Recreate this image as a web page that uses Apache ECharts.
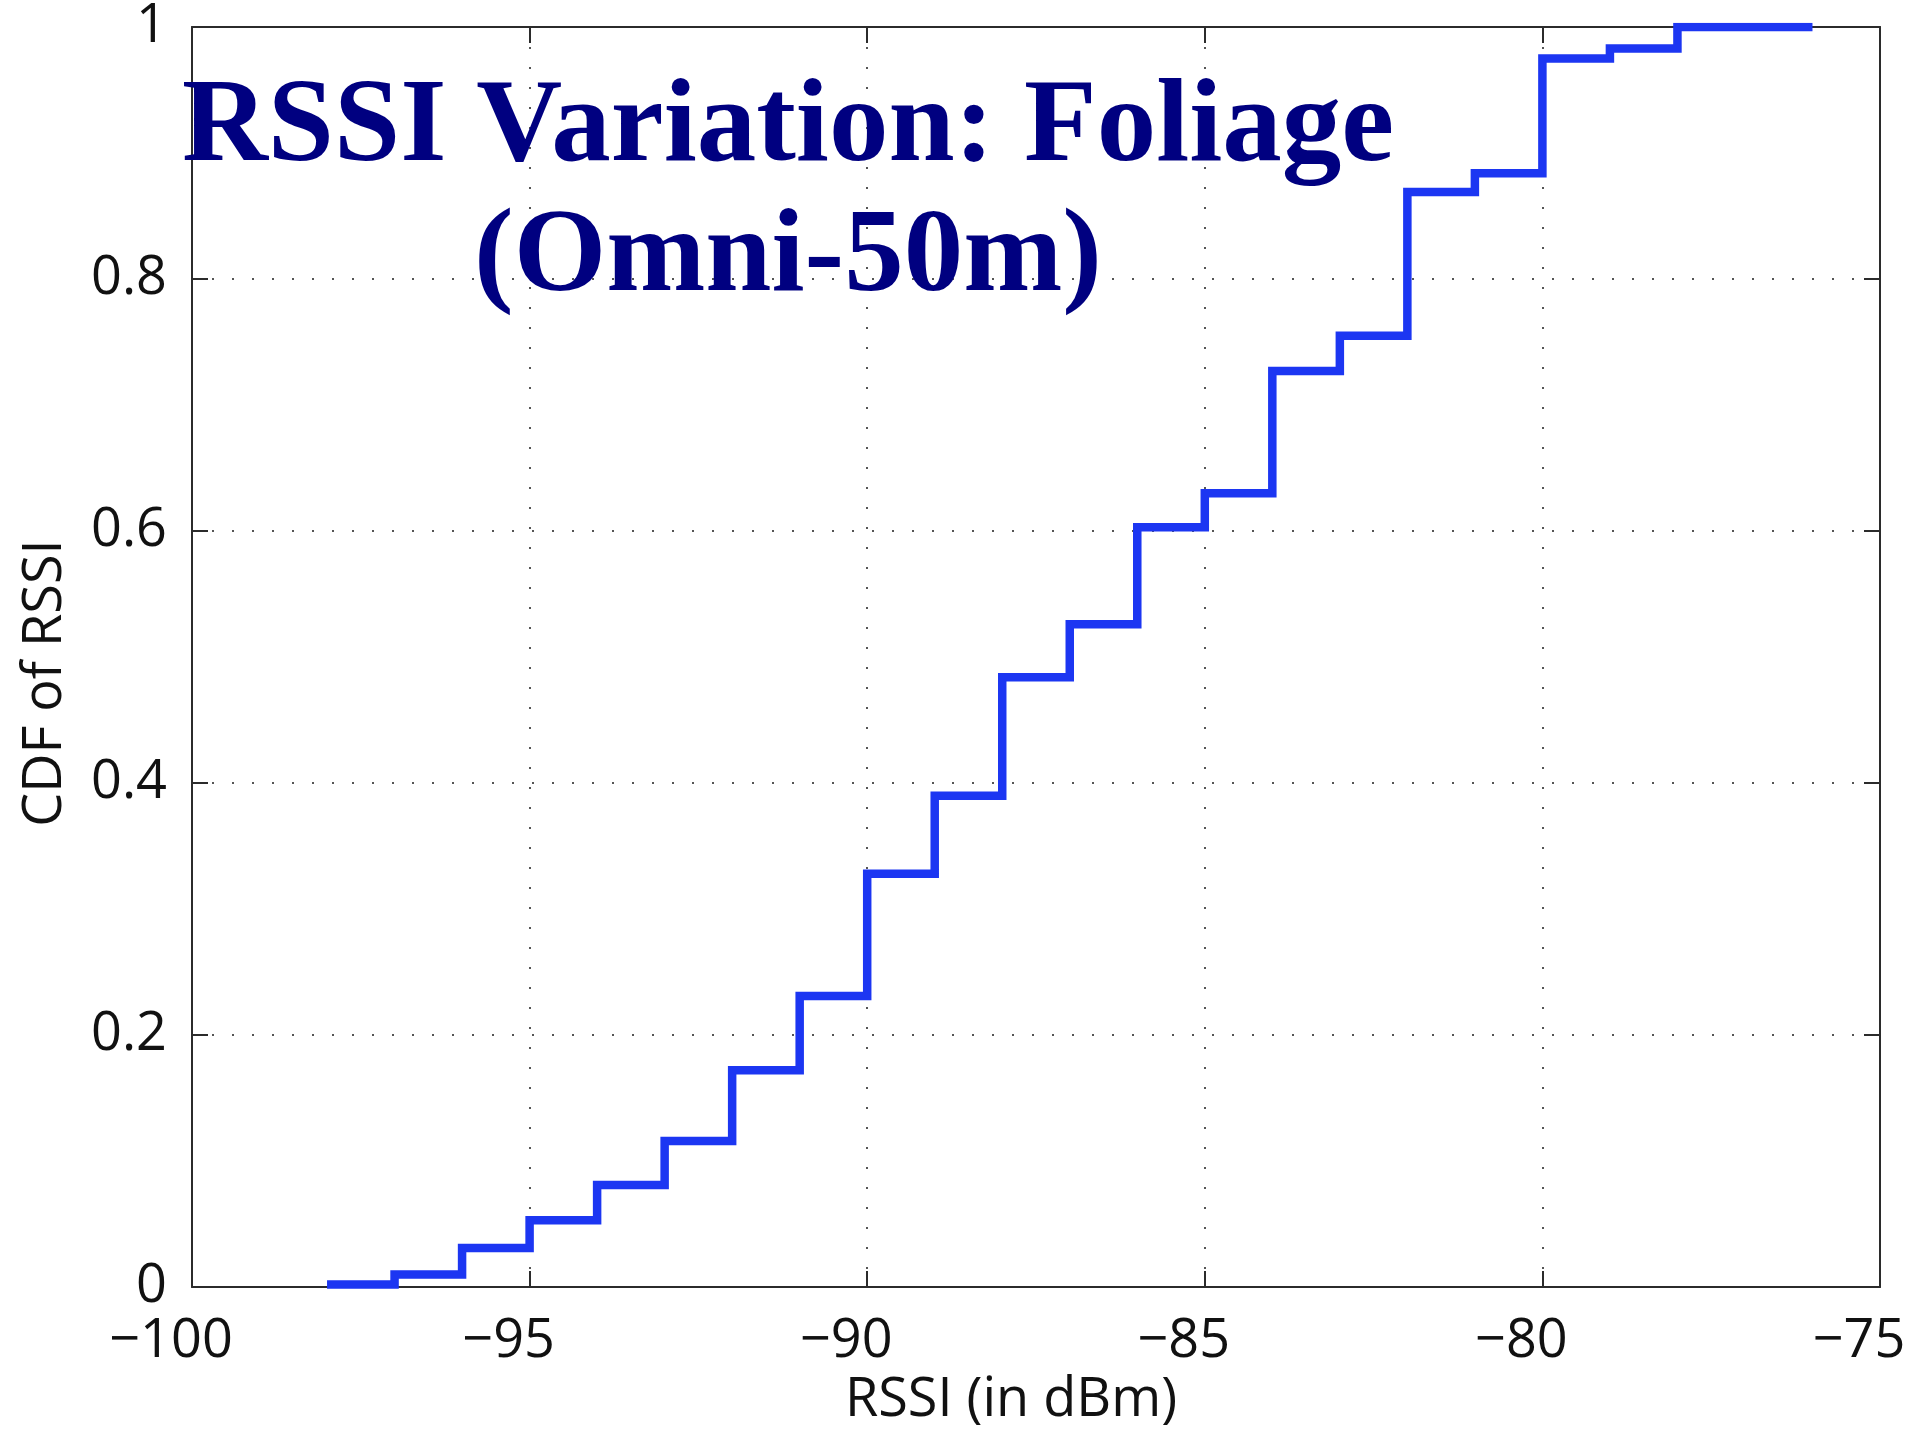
<!DOCTYPE html>
<html>
<head>
<meta charset="utf-8">
<script src="https://cdn.jsdelivr.net/npm/echarts@6/dist/echarts.min.js"></script>
<style>
html,body{margin:0;padding:0;background:#fff;}
#chart{width:1917px;height:1433px;}
</style>
</head>
<body>
<div id="chart"></div>
<script>
// RSSI values (dBm) where the empirical CDF steps, and CDF level from that point on
const rssiValues = [-98, -97, -96, -95, -94, -93, -92, -91, -90, -89, -88, -87, -86, -85, -84, -83, -82, -81, -80, -79, -78, -76];
const cdfValues  = [0.002, 0.010, 0.031, 0.053, 0.081, 0.116, 0.172, 0.231, 0.328, 0.390, 0.484, 0.526, 0.603, 0.630, 0.727, 0.755, 0.869, 0.884, 0.975, 0.983, 1.0, 1.0];
const xTickValues = [-100, -95, -90, -85, -80, -75];
const xTickLabels = ['\u2212100', '\u221295', '\u221290', '\u221285', '\u221280', '\u221275'];
const yTickValues = [0, 0.2, 0.4, 0.6, 0.8, 1];
const yTickLabels = ['0', '0.2', '0.4', '0.6', '0.8', '1'];
const titleLines = ['RSSI Variation: Foliage', '(Omni-50m)'];
const xAxisName = 'RSSI (in dBm)';
const yAxisName = 'CDF of RSSI';

function labelFor(values, labels, v) {
  let best = 0, bd = Infinity;
  values.forEach((t, i) => { const d = Math.abs(t - v); if (d < bd) { bd = d; best = i; } });
  return labels[best];
}

const chart = echarts.init(document.getElementById('chart'), null, {renderer: 'canvas'});
const axisColor = '#2b2b2b';
const labelFont = '"Open Sans", "Noto Sans", sans-serif';
const gridDots = {show: true, lineStyle: {color: '#555', width: 2, type: [2, 18]}};
const titleFont = 'bold 119px "Liberation Serif", "Times New Roman", serif';

const option = {
  animation: false,
  backgroundColor: '#ffffff',
  grid: {left: 192, right: 37, top: 27, bottom: 145, containLabel: false},
  xAxis: [{
    type: 'value', position: 'bottom', min: -100, max: -75, interval: 5,
    axisLine: {show: true, onZero: false, lineStyle: {color: axisColor, width: 2}},
    axisTick: {show: true, inside: true, length: 16, lineStyle: {color: axisColor, width: 2}},
    axisLabel: {
      margin: 28, fontSize: 54, color: '#111', fontFamily: labelFont,
      padding: [0, 42, 0, 0],
      formatter: v => labelFor(xTickValues, xTickLabels, v)
    },
    splitLine: gridDots,
    name: xAxisName, nameLocation: 'middle', nameGap: 86,
    nameTextStyle: {fontSize: 54, color: '#111', fontFamily: labelFont, padding: [0, 50, 0, 0]}
  }, {
    type: 'value', position: 'top', min: -100, max: -75, interval: 5,
    axisLine: {show: true, onZero: false, lineStyle: {color: axisColor, width: 2}},
    axisTick: {show: true, inside: true, length: 16, lineStyle: {color: axisColor, width: 2}},
    axisLabel: {show: false}, splitLine: {show: false}
  }],
  yAxis: [{
    type: 'value', position: 'left', min: 0, max: 1, interval: 0.2,
    axisLine: {show: true, onZero: false, lineStyle: {color: axisColor, width: 2}},
    axisTick: {show: true, inside: true, length: 16, lineStyle: {color: axisColor, width: 2}},
    axisLabel: {
      margin: 25, fontSize: 54, color: '#111', fontFamily: labelFont,
      formatter: v => labelFor(yTickValues, yTickLabels, v)
    },
    splitLine: gridDots,
    name: yAxisName, nameLocation: 'middle', nameGap: 119, nameRotate: 90,
    nameTextStyle: {fontSize: 54, color: '#111', fontFamily: labelFont, padding: [0, 52, 0, 0]}
  }, {
    type: 'value', position: 'right', min: 0, max: 1, interval: 0.2,
    axisLine: {show: true, onZero: false, lineStyle: {color: axisColor, width: 2}},
    axisTick: {show: true, inside: true, length: 16, lineStyle: {color: axisColor, width: 2}},
    axisLabel: {show: false}, splitLine: {show: false}
  }],
  series: [{
    type: 'line',
    xAxisIndex: 0, yAxisIndex: 0,
    step: 'end',
    showSymbol: false,
    clip: true,
    data: rssiValues.map((x, i) => [x, cdfValues[i]]),
    lineStyle: {color: '#1c36f2', width: 8.5, join: 'miter', cap: 'butt'},
    z: 5
  }],
  graphic: [
    {type: 'text', z: 100, style: {x: 788, y: 129, text: titleLines[0], font: titleFont, fill: '#000080', align: 'center', textAlign: 'center', verticalAlign: 'middle', textVerticalAlign: 'middle'}},
    {type: 'text', z: 100, style: {x: 788, y: 259, text: titleLines[1], font: titleFont, fill: '#000080', align: 'center', textAlign: 'center', verticalAlign: 'middle', textVerticalAlign: 'middle'}}
  ]
};
chart.setOption(option);
</script>
</body>
</html>
